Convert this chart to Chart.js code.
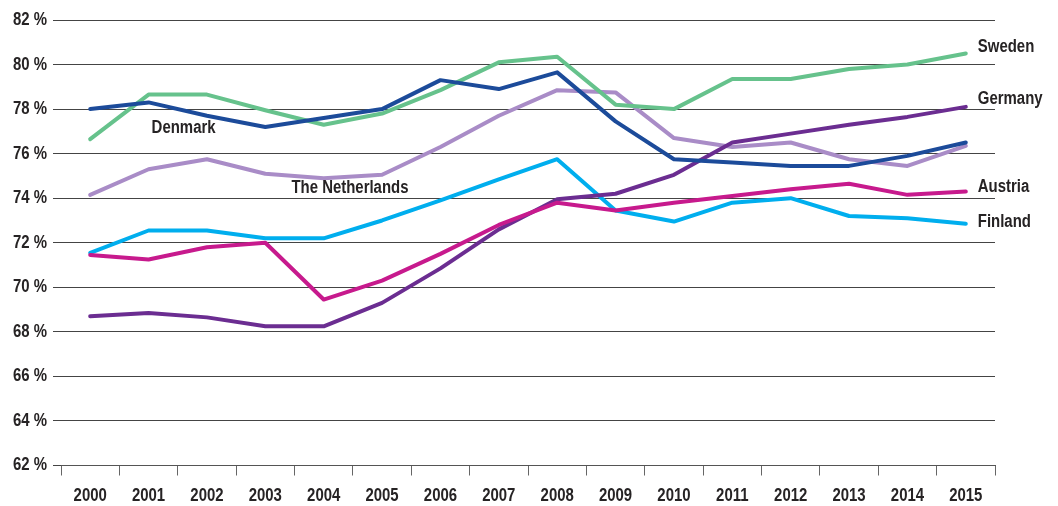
<!doctype html>
<html lang="en">
  <head>
    <meta charset="utf-8">
    <title>Employment rate 2000-2015</title>
    <style>
      * {
        margin: 0;
        padding: 0;
      }
      body {
        background: #fff;
      }
    </style>
  </head>
  <body>
    <canvas id="myChart" width="1058" height="506"></canvas>
    <script src="https://cdn.jsdelivr.net/npm/chart.js/dist/chart.umd.min.js"></script>
    <script>
    // data (employment rate, %)
    const years = ['2000','2001','2002','2003','2004','2005','2006','2007','2008','2009','2010','2011','2012','2013','2014','2015'];
    const denmark     = [78.0, 78.3, 77.7, 77.2, 77.6, 78.0, 79.3, 78.9, 79.65, 77.45, 75.75, 75.6, 75.45, 75.45, 75.9, 76.5];
    const sweden      = [76.65, 78.65, 78.65, 77.95, 77.3, 77.8, 78.85, 80.1, 80.35, 78.2, 78.0, 79.35, 79.35, 79.8, 80.0, 80.5];
    const netherlands = [74.15, 75.3, 75.75, 75.1, 74.9, 75.05, 76.3, 77.7, 78.85, 78.75, 76.7, 76.3, 76.5, 75.75, 75.45, 76.35];
    const finland     = [71.55, 72.55, 72.55, 72.2, 72.2, 73.0, 73.9, 74.85, 75.75, 73.45, 72.95, 73.8, 74.0, 73.2, 73.1, 72.85];
    const austria     = [71.45, 71.25, 71.8, 72.0, 69.45, 70.3, 71.5, 72.8, 73.8, 73.45, 73.8, 74.1, 74.4, 74.65, 74.15, 74.3];
    const germany     = [68.7, 68.85, 68.65, 68.25, 68.25, 69.3, 70.85, 72.6, 73.95, 74.2, 75.05, 76.5, 76.9, 77.3, 77.65, 78.1];

    const yMin = 62;
    const yMax = 82;
    const yStep = 2;

    // text labels placed in data space (category index, value)
    const lineLabels = [
      { text: 'Sweden', x: 15, y: 80.8, align: 'left' },
      { text: 'Germany', x: 15, y: 78.45, align: 'left' },
      { text: 'Austria', x: 15, y: 74.5, align: 'left' },
      { text: 'Finland', x: 15, y: 72.95, align: 'left' },
      { text: 'Denmark', x: 1.6, y: 77.15, align: 'center' },
      { text: 'The Netherlands', x: 4.45, y: 74.45, align: 'center' }
    ];

    const FONT = '"Liberation Sans", Arial, sans-serif';
    const TEXT = '#262324';
    const SQUEEZE = 0.83; // narrow look of the original font

    function narrowText(ctx, text, x, y, align) {
      ctx.save();
      ctx.translate(x, y);
      ctx.scale(SQUEEZE, 1);
      ctx.textAlign = align;
      ctx.fillText(text, 0, 0);
      ctx.restore();
    }

    const labelPlugin = {
      id: 'narrowLabels',
      afterDraw(chart) {
        const ctx = chart.ctx;
        const xs = chart.scales.x;
        const ys = chart.scales.y;
        ctx.save();
        ctx.font = 'bold 18px ' + FONT;
        ctx.fillStyle = TEXT;
        ctx.textBaseline = 'middle';
        // axis tick labels
        ys.ticks.forEach((t, i) => {
          narrowText(ctx, t.value + ' %', xs.left - 14, ys.getPixelForTick(i), 'right');
        });
        xs.ticks.forEach((t, i) => {
          narrowText(ctx, years[i], xs.getPixelForTick(i), ys.bottom + 31, 'center');
        });
        // line labels
        lineLabels.forEach(l => {
          let px = xs.getPixelForValue(l.x);
          if (l.align === 'left') px += 12;
          narrowText(ctx, l.text, px, ys.getPixelForValue(l.y), l.align);
        });
        ctx.restore();
      }
    };

    function series(label, values, color) {
      return {
        label: label,
        data: values,
        borderColor: color,
        backgroundColor: color,
        borderWidth: 4,
        pointRadius: 0,
        tension: 0,
        borderJoinStyle: 'round',
        borderCapStyle: 'round'
      };
    }

    // setup
    const data = {
      labels: years,
      datasets: [
        series('Denmark', denmark, '#1c4b9a'),
        series('Austria', austria, '#c71a8d'),
        series('Sweden', sweden, '#66c28c'),
        series('Germany', germany, '#6b2d91'),
        series('The Netherlands', netherlands, '#a98cc7'),
        series('Finland', finland, '#00aeee')
      ]
    };

    // config
    const config = {
      type: 'line',
      data,
      options: {
        responsive: false,
        animation: false,
        layout: {
          padding: { top: 20, right: 63, bottom: 0, left: 0 }
        },
        plugins: {
          legend: { display: false },
          tooltip: { enabled: false }
        },
        scales: {
          x: {
            offset: true,
            afterFit(scale) { scale.height = 40.5; },
            grid: {
              offset: true,
              drawOnChartArea: false,
              drawTicks: true,
              tickLength: 10,
              color: '#666'
            },
            border: { display: true, color: '#555', width: 1 },
            ticks: {
              color: 'rgba(0,0,0,0)',
              font: { family: FONT, size: 18, weight: 'bold' },
              maxRotation: 0,
              autoSkip: false
            }
          },
          y: {
            min: yMin,
            max: yMax,
            afterFit(scale) { scale.width = 61; },
            grid: {
              color: '#444',
              lineWidth: 1,
              drawTicks: true,
              tickLength: 8
            },
            border: { display: false },
            ticks: {
              stepSize: yStep,
              color: 'rgba(0,0,0,0)',
              font: { family: FONT, size: 18, weight: 'bold' },
              callback: v => v + ' %'
            }
          }
        }
      },
      plugins: [labelPlugin]
    };

    const myChart = new Chart(
      document.getElementById('myChart'),
      config
    );
    </script>
  </body>
</html>
